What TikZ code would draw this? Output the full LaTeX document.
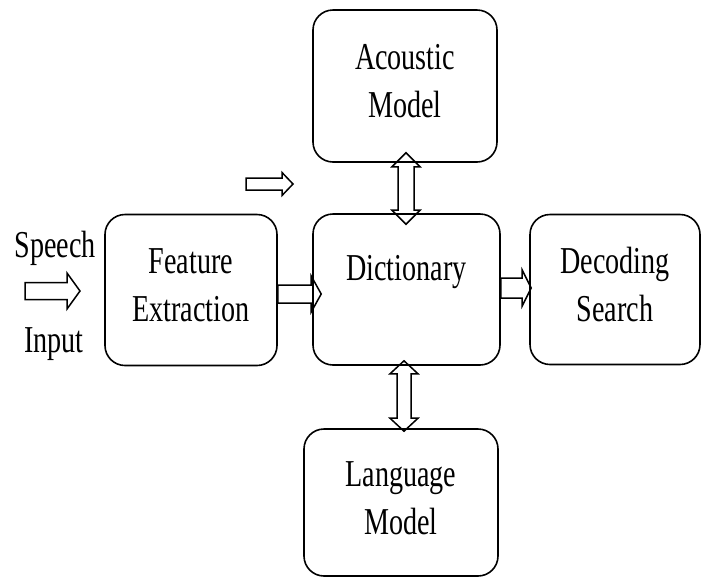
\documentclass[tikz,border=0pt]{standalone}
\usepackage{fontspec}
\setmainfont{Liberation Serif}[FakeStretch=0.74]
\usetikzlibrary{calc}
\tikzset{
  box/.style={draw, line width=1.6pt, rounded corners=20pt, inner sep=0pt},
  txt/.style={font=\fontsize{38}{48}\selectfont, inner sep=0pt, align=center},
  lbl/.style={font=\fontsize{38}{48}\selectfont, inner sep=0pt, anchor=base},
  blockarrow/.style={draw, line width=1.5pt, line join=miter}
}
% horizontal block arrow: tail, tip, shaft half width, head half width, head length
\newcommand\HArrow[5]{\path[blockarrow] let \p1=#1, \p2=#2 in
  (\x1,\y1+#3) -- (\x2-#5,\y1+#3) -- (\x2-#5,\y1+#4) -- (\x2,\y1)
  -- (\x2-#5,\y1-#4) -- (\x2-#5,\y1-#3) -- (\x1,\y1-#3) -- cycle;}
% vertical double block arrow: top tip, bottom tip, shaft half, head half, head length
\newcommand\VDArrow[5]{\path[blockarrow] let \p1=#1, \p2=#2 in
  (\x1,\y1) -- (\x1+#4,\y1-#5) -- (\x1+#3,\y1-#5) -- (\x1+#3,\y2+#5)
  -- (\x1+#4,\y2+#5) -- (\x1,\y2) -- (\x1-#4,\y2+#5) -- (\x1-#3,\y2+#5)
  -- (\x1-#3,\y1-#5) -- (\x1-#4,\y1-#5) -- cycle;}
\begin{document}
\begin{tikzpicture}[x=1pt,y=-1pt]
\useasboundingbox (0,0) rectangle (702,582);
\node[box, minimum width=184pt, minimum height=152pt,
  label={[txt, yshift=5pt]center:Acoustic\\Model}] (ac) at (405,86) {};
\node[box, minimum width=172pt, minimum height=151pt,
  label={[txt, yshift=5pt]center:Feature\\Extraction}] (fe) at (191,290) {};
\node[box, minimum width=187pt, minimum height=151pt,
  label={[txt, yshift=17pt]center:Dictionary}] (di) at (406.5,289.5) {};
\node[box, minimum width=170pt, minimum height=150pt,
  label={[txt, yshift=5pt]center:Decoding\\Search}] (de) at (615,289.5) {};
\node[box, minimum width=194pt, minimum height=147pt,
  label={[txt, yshift=4pt]center:Language\\Model}] (lm) at (401,502.5) {};
\node[lbl] (speech) at (55,257) {Speech};
\node[lbl] (input) at (54,352) {Input};
\coordinate (sp1) at (25,291);
\coordinate (sp2) at (80,291);
\coordinate (st1) at (246,184);
\coordinate (st2) at (293,184);
\HArrow{(sp1)}{(sp2)}{8.5pt}{18pt}{13pt}
\HArrow{(st1)}{(st2)}{6pt}{11.5pt}{11pt}
\HArrow{($(fe.east)+(0,4)$)}{($(di.west)+(9,4)$)}{9pt}{18pt}{10pt}
\HArrow{($(di.east)+(0,-1.5)$)}{($(de.west)+(2,-1.5)$)}{10pt}{18pt}{9pt}
\VDArrow{($(ac.south)+(1,-10)$)}{($(di.north)+(0,11)$)}{8pt}{14pt}{14pt}
\VDArrow{($(di.south)+(-2.5,-5)$)}{($(lm.north)+(3,3)$)}{7pt}{14pt}{13pt}
\end{tikzpicture}
\end{document}
